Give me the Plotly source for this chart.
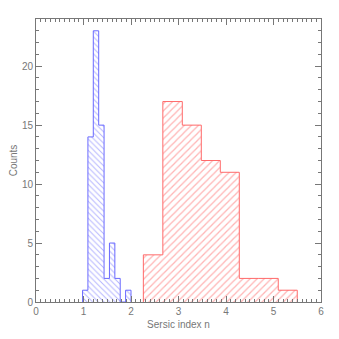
import plotly.graph_objects as go

# blue histogram (narrow peak)
blue_edges = [0.98, 1.093, 1.206, 1.32, 1.433, 1.546, 1.66, 1.773, 1.886, 2.0]
blue_counts = [1, 14, 23, 15, 2, 5, 2, 0, 1]

# red histogram (broad)
red_edges = [2.26, 2.67, 3.08, 3.48, 3.88, 4.28, 4.69, 5.10, 5.50]
red_counts = [4, 17, 15, 12, 11, 2, 2, 1]

BLUE = "#6a6aff"
RED = "#ff6a6a"
GREY = "#777777"
FONT = "Liberation Sans, Arial"


def add_hist(fig, edges, counts, color, shape, size):
    widths = [b - a for a, b in zip(edges[:-1], edges[1:])]
    fig.add_trace(go.Bar(
        x=edges[:-1], y=counts, width=widths, offset=0,
        marker=dict(color="rgba(0,0,0,0)", line=dict(width=0),
                    pattern=dict(shape=shape, fgcolor=color, bgcolor="white",
                                 size=size, solidity=0.25)),
        showlegend=False, hoverinfo="skip",
    ))
    fig.add_trace(go.Scatter(
        x=[edges[0]] + edges, y=[0] + counts + [0],
        mode="lines", line=dict(color=color, width=1, shape="hv"),
        showlegend=False, hoverinfo="skip",
    ))
    return fig


fig = go.Figure()
add_hist(fig, blue_edges, blue_counts, BLUE, "\\", 4)
add_hist(fig, red_edges, red_counts, RED, "/", 5)

axis_common = dict(
    showgrid=False, zeroline=False, showline=True, linecolor=GREY, linewidth=1,
    mirror="allticks", ticks="inside", tickcolor=GREY, ticklen=6,
    automargin=False,
    tickfont=dict(family=FONT, size=10, color=GREY),
)

# page body adds an 8px offset, so the figure is a bit smaller than the window
fig.update_layout(
    width=331, height=331,
    margin=dict(l=28, r=18, t=11, b=37),
    plot_bgcolor="white", paper_bgcolor="white",
    barmode="overlay", bargap=0,
    xaxis=dict(axis_common, range=[0, 6], dtick=1,
               minor=dict(dtick=0.1, ticklen=3, ticks="inside", tickcolor=GREY),
               title=dict(text="Sersic index n", standoff=4,
                          font=dict(family=FONT, size=10, color=GREY))),
    yaxis=dict(axis_common, range=[0, 24], dtick=5,
               minor=dict(dtick=1, ticklen=3, ticks="inside", tickcolor=GREY),
               title=dict(text="Counts", standoff=6,
                          font=dict(family=FONT, size=10, color=GREY))),
)

fig.write_html("out.html")
